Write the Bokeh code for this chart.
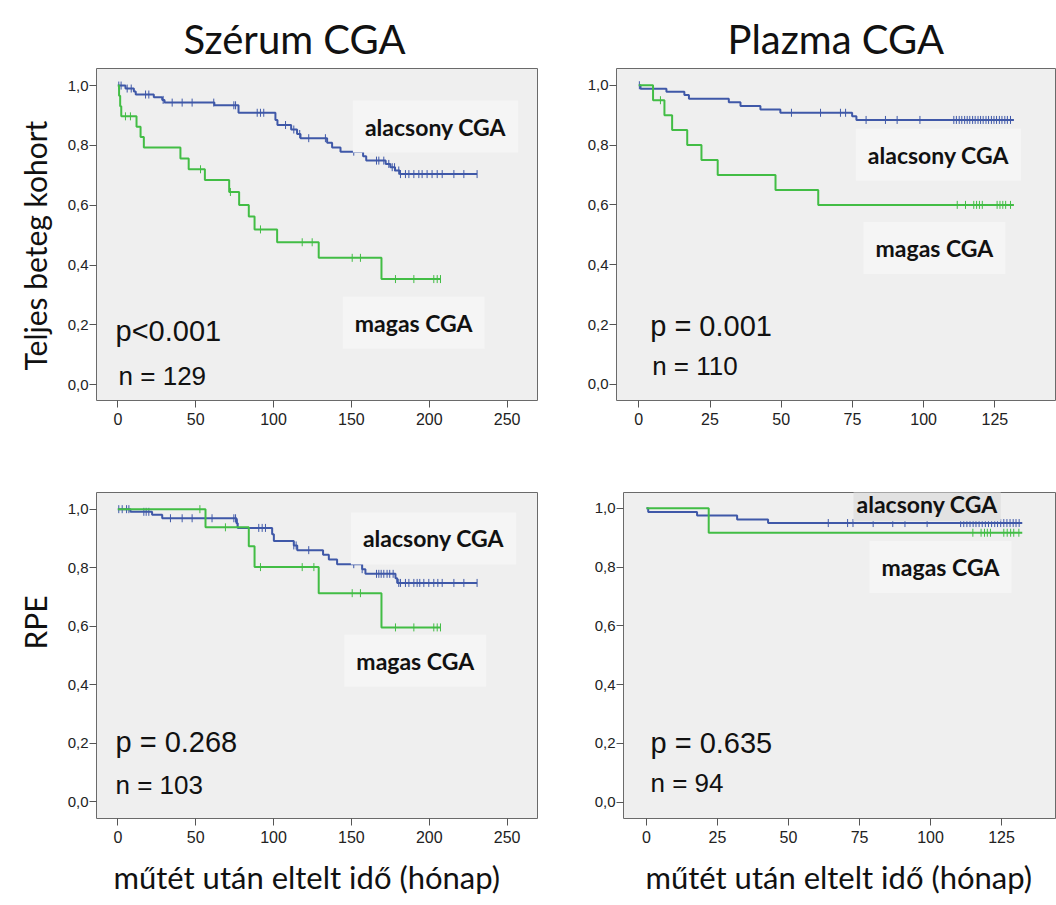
import numpy as np
from bokeh.plotting import figure
from bokeh.models import Range1d, FixedTicker, Label, Title
from bokeh.layouts import column, row
from bokeh.embed import file_html
from bokeh.resources import INLINE

# ---------------- data ----------------
col_titles = ["Szérum CGA", "Plazma CGA"]
row_titles = ["Teljes beteg kohort", "RPE"]
x_label = "műtét után eltelt idő (hónap)"
group_names = ["alacsony CGA", "magas CGA"]
y_ticks = [0, 0.2, 0.4, 0.6, 0.8, 1]
y_tick_labels = ["0,0", "0,2", "0,4", "0,6", "0,8", "1,0"]
x_ticks_serum = [0, 50, 100, 150, 200, 250]
x_ticks_plazma = [0, 25, 50, 75, 100, 125]
p_texts = ["p<0.001", "p = 0.001", "p = 0.268", "p = 0.635"]
n_texts = ["n = 129", "n = 110", "n = 103", "n = 94"]

# Panel A: Szérum CGA, teljes kohort
a_low_t = [0, 4.9, 10.3, 11.5, 23.1, 28.5, 30.0, 62.0, 77.5, 101.2, 102.5, 111.3, 115.1, 117.3,
           134.4, 137.6, 143.0, 157.5, 159.5, 172.0, 175.0, 178.0, 181.0]
a_low_s = [1.0, 0.990, 0.980, 0.970, 0.961, 0.952, 0.943, 0.934, 0.909, 0.885, 0.868, 0.853, 0.838, 0.824,
           0.809, 0.793, 0.779, 0.764, 0.749, 0.738, 0.727, 0.716, 0.704]
a_low_end = 230.7
a_low_cens = [0.6, 2.1, 6.0, 8.6, 17.8, 19.9, 29.1, 34.9, 41.3, 47.7, 61.6, 74.5, 75.6, 89.5, 91.6, 93.7,
              107.7, 113.0, 116.8, 122.6, 133.3, 151.5, 166.1, 167.6, 170.8, 174.0, 176.2, 177.7, 180.4,
              181.5, 184.7, 186.9, 190.1, 193.3, 195.4, 198.6, 201.8, 205.1, 208.3, 215.8, 222.2, 230.7]
a_high_t = [0, 0.8, 1.5, 2.2, 12.0, 14.6, 16.7, 40.2, 45.5, 55.9, 71.5, 77.9, 84.1, 87.8, 102.3, 129.0, 169.3]
a_high_s = [1.0, 0.966, 0.931, 0.897, 0.862, 0.828, 0.793, 0.756, 0.720, 0.684, 0.644, 0.601, 0.562,
            0.519, 0.476, 0.424, 0.353]
a_high_end = 207.2
a_high_cens = [4.9, 8.1, 53.1, 72.3, 91.6, 118.4, 124.8, 150.5, 155.8, 178.3, 190.1, 202.9, 205.1, 207.2]

# Panel B: Plazma CGA, teljes kohort
b_low_t = [0, 0.6, 9.7, 16.0, 17.6, 31.6, 35.7, 42.7, 49.7, 74.9, 76.4]
b_low_s = [1.0, 0.988, 0.978, 0.967, 0.955, 0.943, 0.931, 0.919, 0.908, 0.896, 0.884]
b_low_end = 131.7
b_low_cens = [0.2, 53.6, 63.8, 70.8, 72.6, 79.8, 86.6, 90.7, 98.7, 110.6, 111.5, 112.5, 113.4, 114.4,
              115.3, 116.2, 117.2, 118.1, 119.1, 120.0, 120.9, 121.9, 122.8, 123.8, 124.7, 125.6, 126.6,
              127.5, 128.5, 129.4, 130.5]
b_high_t = [0, 5.0, 9.0, 11.7, 17.0, 22.0, 27.7, 48.0, 63.0]
b_high_s = [1.0, 0.950, 0.900, 0.850, 0.800, 0.750, 0.700, 0.650, 0.600]
b_high_end = 131.7
b_high_cens = [7.6, 111.8, 114.7, 117.6, 118.6, 119.6, 120.6, 125.8, 126.8, 127.8, 128.8, 130.5]

# Panel C: Szérum CGA, RPE
c_low_t = [0, 8.1, 22.0, 28.5, 76.2, 77.0, 99.1, 100.2, 113.0, 115.2, 131.8, 135.5, 140.8, 156.9,
           159.0, 178.3, 179.4]
c_low_s = [1.0, 0.991, 0.981, 0.969, 0.952, 0.936, 0.914, 0.891, 0.876, 0.860, 0.844, 0.828, 0.812,
           0.795, 0.779, 0.764, 0.748]
c_low_end = 230.7
c_low_cens = [0.6, 2.8, 5.6, 7.1, 16.7, 18.2, 19.9, 33.8, 41.3, 47.7, 60.5, 74.5, 75.6, 76.7, 90.5,
              92.7, 94.8, 113.0, 114.5, 122.6, 151.5, 156.9, 166.1, 167.6, 169.1, 170.8, 172.9, 174.6,
              176.8, 180.4, 181.5, 184.7, 186.9, 190.1, 192.2, 193.9, 196.5, 199.7, 202.9, 205.5, 208.3,
              215.8, 222.2, 230.7]
c_high_t = [0, 56.3, 84.1, 87.8, 129.0, 169.3]
c_high_s = [1.0, 0.938, 0.873, 0.802, 0.713, 0.596]
c_high_end = 207.2
c_high_cens = [52.7, 69.1, 91.6, 118.4, 125.9, 150.5, 155.8, 178.3, 190.1, 202.9, 205.1, 207.2]

# Panel D: Plazma CGA, RPE
d_low_t = [0, 0.6, 17.8, 31.9, 42.8]
d_low_s = [1.0, 0.988, 0.976, 0.962, 0.950]
d_low_end = 132.3
d_low_cens = [64.0, 70.8, 72.7, 79.8, 86.7, 91.0, 98.8, 110.6, 111.7, 112.8, 113.9, 115.0, 116.0,
              117.1, 118.2, 119.3, 120.4, 121.5, 122.6, 123.6, 124.7, 125.8, 126.9, 128.0, 129.1, 130.1, 131.2]
d_high_t = [0, 21.9]
d_high_s = [1.0, 0.917]
d_high_end = 132.3
d_high_cens = [114.9, 117.8, 119.0, 120.0, 121.1, 125.8, 127.0, 128.2, 129.3, 131.1]

BLUE = "#3f58a8"
GREEN = "#42bd45"
BG = "#efefef"


def km_curve(p, t, s, end, cens, color):
    xs = list(t) + [end]
    ys = list(s) + [s[-1]]
    p.step(xs, ys, mode="after", line_color=color, line_width=2)
    idx = np.searchsorted(np.array(t), np.array(cens), side="right") - 1
    cy = [s[i] for i in idx]
    p.scatter(cens, cy, marker="dash", angle=np.pi / 2, size=8, line_color=color, line_width=1)


def make_fig(width, height, borders, x_rng, y_rng, x_ticks):
    p = figure(width=width, height=height, x_range=Range1d(*x_rng), y_range=Range1d(*y_rng),
               output_backend="svg", toolbar_location=None,
               min_border_left=borders[0], min_border_right=borders[1],
               min_border_top=borders[2], min_border_bottom=borders[3])
    p.background_fill_color = BG
    p.border_fill_color = "white"
    p.outline_line_color = "#6a6a6a"
    p.outline_line_width = 1
    p.grid.visible = False
    p.xaxis.ticker = FixedTicker(ticks=x_ticks)
    p.yaxis.ticker = FixedTicker(ticks=y_ticks)
    p.yaxis.major_label_overrides = dict(zip(y_ticks, y_tick_labels))
    for ax in p.axis:
        ax.axis_line_color = None
        ax.major_tick_out = 7
        ax.major_tick_in = 0
        ax.minor_tick_out = 0
        ax.minor_tick_in = 0
        ax.major_tick_line_color = "#555555"
        ax.major_label_text_font = "Liberation Sans"
        ax.major_label_text_font_size = "15px"
        ax.major_label_text_color = "#222222"
        ax.major_label_standoff = 1
    p.xaxis.major_label_text_font_size = "16px"
    p.xaxis.major_label_standoff = 5
    return p


def add_title_top(p, text, offset):
    p.add_layout(Title(text=text, align="left", offset=offset, text_font="Lato",
                       text_font_size="40px", text_font_style="normal", text_color="#111111",
                       standoff=11), "above")


def add_title_left(p, text, offset):
    p.add_layout(Title(text=text, align="left", offset=offset, text_font="Lato",
                       text_font_size="30px", text_font_style="normal", text_color="#111111",
                       standoff=23), "left")


def add_title_below(p, text, offset):
    p.add_layout(Title(text=text, align="left", offset=offset, text_font="Lato",
                       text_font_size="31px", text_font_style="normal", text_color="#111111",
                       standoff=20), "below")


def group_label(p, text, x, y, bg="#f5f5f5", pad=12):
    p.add_layout(Label(x=x, y=y, text=text, text_font="Lato", text_font_style="bold",
                       text_font_size="23px", text_align="center", text_baseline="middle",
                       text_color="#111111", background_fill_color=bg, padding=pad))


def stat_label(p, text, x, y, size):
    p.add_layout(Label(x=x, y=y, text=text, text_font="Liberation Sans", text_font_size=size,
                       text_align="left", text_baseline="middle", text_color="#111111"))


# Panel A
pa = make_fig(560, 440, (96, 23, 67, 40), (-13.7, 269.5), (-0.053, 1.057), x_ticks_serum)
add_title_top(pa, col_titles[0], 87)
add_title_left(pa, row_titles[0], 30)
km_curve(pa, a_low_t, a_low_s, a_low_end, a_low_cens, BLUE)
km_curve(pa, a_high_t, a_high_s, a_high_end, a_high_cens, GREEN)
group_label(pa, group_names[0], 204, 0.863)
group_label(pa, group_names[1], 190, 0.207)
stat_label(pa, p_texts[0], -1.5, 0.18, "29px")
stat_label(pa, n_texts[0], 0.5, 0.03, "26px")

# Panel B
pb = make_fig(496, 440, (56, 1, 68, 37), (-7.83, 146.3), (-0.054, 1.056), x_ticks_plazma)
add_title_top(pb, col_titles[1], 111)
group_label(pb, group_names[0], 105.2, 0.768)
group_label(pb, group_names[1], 103.8, 0.456)
km_curve(pb, b_low_t, b_low_s, b_low_end, b_low_cens, BLUE)
km_curve(pb, b_high_t, b_high_s, b_high_end, b_high_cens, GREEN)
stat_label(pb, p_texts[1], 4.0, 0.195, "29px")
stat_label(pb, n_texts[1], 4.7, 0.062, "26px")

# Panel C
pc = make_fig(560, 465, (96, 23, 48, 84), (-13.7, 269.5), (-0.057, 1.057), x_ticks_serum)
add_title_left(pc, row_titles[1], 169)
add_title_below(pc, x_label, 17)
km_curve(pc, c_low_t, c_low_s, c_low_end, c_low_cens, BLUE)
km_curve(pc, c_high_t, c_high_s, c_high_end, c_high_cens, GREEN)
group_label(pc, group_names[0], 202.7, 0.90)
group_label(pc, group_names[1], 191, 0.482)
stat_label(pc, p_texts[2], -1.5, 0.204, "29px")
stat_label(pc, n_texts[2], -1.5, 0.057, "26px")

# Panel D
pd_ = make_fig(496, 465, (63, 1, 52, 78), (-8.1, 144.0), (-0.056, 1.054), x_ticks_plazma)
add_title_below(pd_, x_label, 22)
km_curve(pd_, d_low_t, d_low_s, d_low_end, d_low_cens, BLUE)
km_curve(pd_, d_high_t, d_high_s, d_high_end, d_high_cens, GREEN)
group_label(pd_, group_names[0], 98.8, 1.014, bg="#e2e2e2", pad=3)
group_label(pd_, group_names[1], 103.5, 0.80)
stat_label(pd_, p_texts[3], 1.4, 0.20, "29px")
stat_label(pd_, n_texts[3], 1.4, 0.066, "26px")

layout = column(row(pa, pb), row(pc, pd_))
open("out.html", "w").write(file_html(layout, INLINE))
